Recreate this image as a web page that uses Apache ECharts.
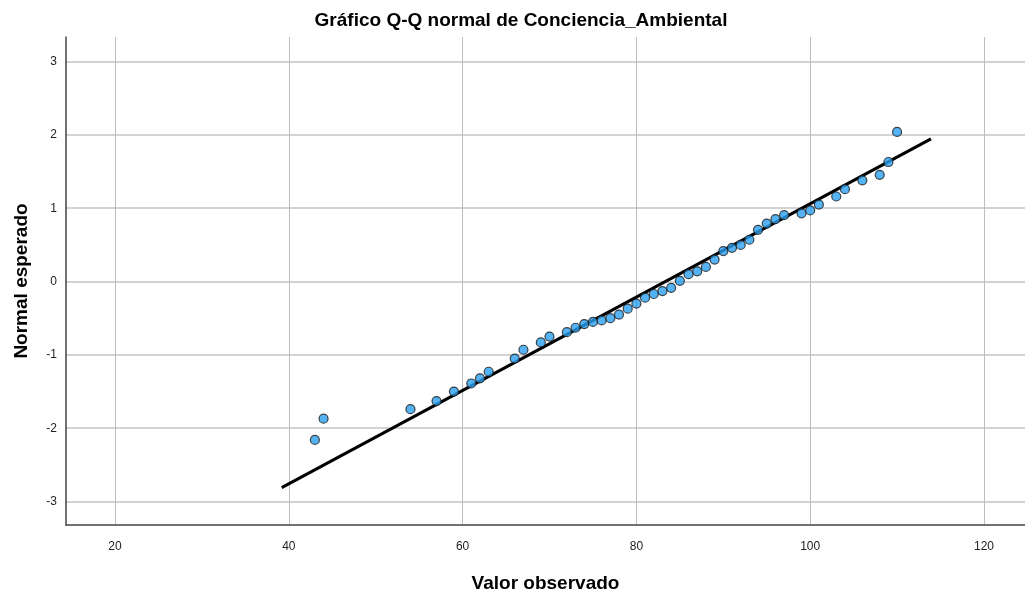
<!DOCTYPE html>
<html>
<head>
<meta charset="utf-8">
<script src="https://cdn.jsdelivr.net/npm/echarts@6/dist/echarts.min.js"></script>
<style>
html,body{margin:0;padding:0;background:#fff;}
#chart{width:1025px;height:598px;}
</style>
</head>
<body>
<div id="chart"></div>
<script>
// Observed values (x) and expected normal values (y)
const observedValues = [43,44,54,57,59,61,62,63,66,67,69,70,72,73,74,75,76,77,78,79,80,81,82,83,84,85,86,87,88,89,90,91,92,93,94,95,96,97,99,100,101,103,104,106,108,109,110];
const expectedNormal = [-2.16,-1.87,-1.74,-1.63,-1.50,-1.39,-1.32,-1.23,-1.05,-0.93,-0.83,-0.75,-0.69,-0.63,-0.58,-0.55,-0.53,-0.50,-0.45,-0.37,-0.30,-0.22,-0.17,-0.13,-0.085,0.01,0.10,0.14,0.20,0.30,0.415,0.46,0.50,0.57,0.705,0.79,0.85,0.905,0.93,0.97,1.05,1.16,1.26,1.38,1.455,1.63,2.04];
// Reference line endpoints
const refLineX = [39.18, 113.9];
const refLineY = [-2.81, 1.945];
// Axis ranges
const xRange = [14.36, 124.72];
const yRange = [-3.32, 3.335];

const titleText = 'Gráfico Q-Q normal de Conciencia_Ambiental';
const xAxisTitle = 'Valor observado';
const yAxisTitle = 'Normal esperado';

const chart = echarts.init(document.getElementById('chart'), null, {renderer: 'canvas'});
const font = 'Liberation Sans, Arial, sans-serif';
const pts = observedValues.map((v, i) => [v, expectedNormal[i]]);
const linePts = refLineX.map((v, i) => [v, refLineY[i]]);

chart.setOption({
  backgroundColor: '#ffffff',
  animation: false,
  title: {
    text: titleText,
    left: 516, top: 6,
    textAlign: 'center',
    textStyle: {fontFamily: font, fontSize: 19, fontWeight: 'bold', color: '#000'}
  },
  grid: {left: 66, right: 0, top: 37, bottom: 64, containLabel: false},
  xAxis: {
    type: 'value',
    min: xRange[0], max: xRange[1],
    splitNumber: 5,
    name: xAxisTitle,
    nameLocation: 'middle',
    nameGap: 49,
    nameTextStyle: {fontFamily: font, fontSize: 19, fontWeight: 'bold', color: '#000'},
    axisLine: {show: true, onZero: false, lineStyle: {color: '#444', width: 1.5}},
    axisTick: {show: false},
    axisLabel: {fontFamily: font, fontSize: 12, color: '#222', margin: 16, showMinLabel: false, showMaxLabel: false},
    splitLine: {show: true, showMinLine: false, showMaxLine: false, lineStyle: {color: '#bdbdbd', width: 1}}
  },
  yAxis: {
    type: 'value',
    min: yRange[0], max: yRange[1],
    splitNumber: 6,
    name: yAxisTitle,
    nameLocation: 'middle',
    nameGap: 35,
    nameTextStyle: {fontFamily: font, fontSize: 19, fontWeight: 'bold', color: '#000'},
    axisLine: {show: true, onZero: false, lineStyle: {color: '#444', width: 1.5}},
    axisTick: {show: false},
    axisLabel: {fontFamily: font, fontSize: 12, color: '#222', margin: 9, showMinLabel: false, showMaxLabel: false},
    splitLine: {show: true, showMinLine: false, showMaxLine: false, lineStyle: {color: '#c4c4c4', width: 1.5}}
  },
  series: [
    {
      type: 'line',
      data: linePts,
      showSymbol: false,
      lineStyle: {color: '#000', width: 3},
      z: 2
    },
    {
      type: 'scatter',
      data: pts,
      symbol: 'circle',
      symbolSize: 9,
      itemStyle: {color: '#2a9ff0', borderColor: '#1c1c1c', borderWidth: 1.2},
      z: 3
    }
  ]
});
</script>
</body>
</html>
